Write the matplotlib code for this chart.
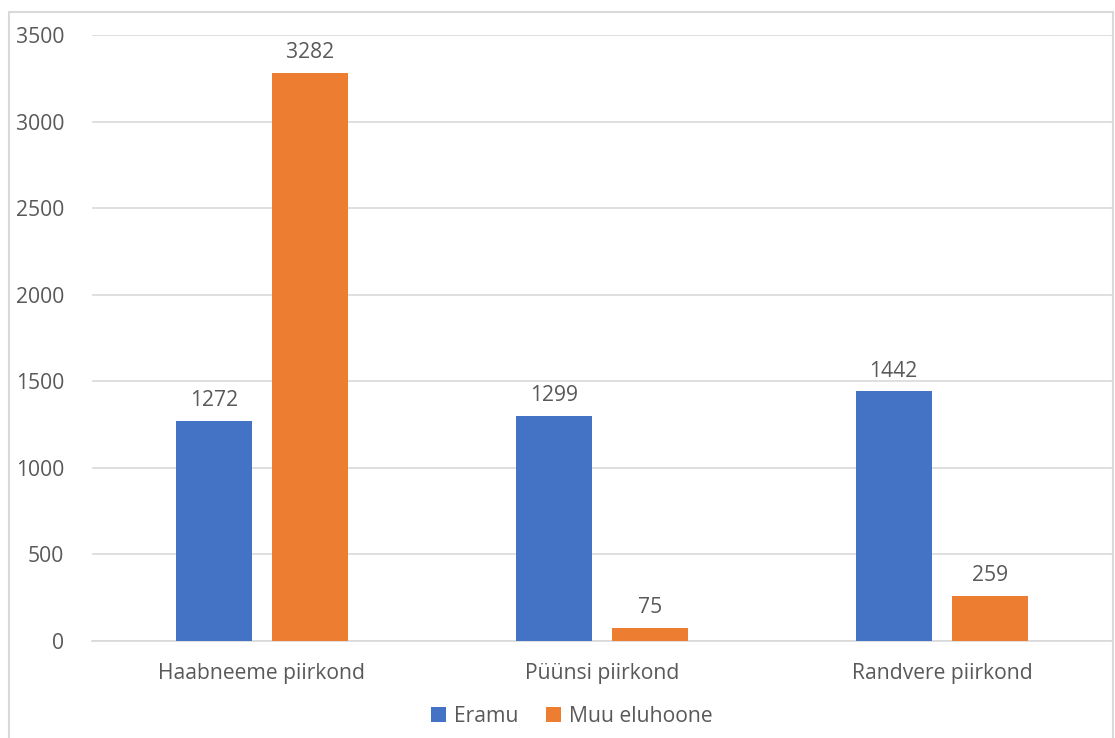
import matplotlib
matplotlib.use("Agg")
import matplotlib.pyplot as plt
from matplotlib.patches import Rectangle
import numpy as np

categories = ["Haabneeme piirkond", "Püünsi piirkond", "Randvere piirkond"]
series_names = ["Eramu", "Muu eluhoone"]
eramu = [1272, 1299, 1442]
muu_eluhoone = [3282, 75, 259]
y_ticks = [0, 500, 1000, 1500, 2000, 2500, 3000, 3500]

colors = ["#4472C4", "#ED7D31"]
text_color = "#595959"
plt.rcParams["font.family"] = ["Open Sans", "DejaVu Sans"]

W, H = 1115, 738
fig = plt.figure(figsize=(W / 100, H / 100), dpi=100)
ax = fig.add_axes([92 / W, 1 - 641 / H, (1112 - 92) / W, (641 - 35) / H])

x = np.arange(len(categories))
bar_w = 0.223
offset = 0.142
fs = 15.2

for vals, name, col, off in [(eramu, series_names[0], colors[0], -offset),
                              (muu_eluhoone, series_names[1], colors[1], offset)]:
    bars = ax.bar(x + off, vals, width=bar_w, color=col, label=name, zorder=3)
    for b, v in zip(bars, vals):
        ax.annotate(f"{v}", (b.get_x() + b.get_width() / 2, v),
                    xytext=(0, 7), textcoords="offset points",
                    ha="center", va="bottom", fontsize=fs, color=text_color)

ax.set_xlim(-0.5, len(categories) - 0.5)
ax.set_ylim(0, 3500)
ax.set_yticks(y_ticks)
ax.set_yticklabels([str(t) for t in y_ticks])
ax.set_xticks(x)
ax.set_xticklabels(categories)
ax.tick_params(axis="both", length=0, labelsize=fs, colors=text_color)
ax.tick_params(axis="y", pad=20)
ax.tick_params(axis="x", pad=16)
ax.grid(axis="y", color="#D9D9D9", linewidth=1.2, zorder=0)
for s in ["top", "right", "left"]:
    ax.spines[s].set_visible(False)
ax.spines["bottom"].set_color("#D9D9D9")
ax.spines["bottom"].set_linewidth(1.2)

leg = fig.legend(loc="center", bbox_to_anchor=(572 / W, 1 - 716 / H), ncol=2,
                 frameon=False, fontsize=fs, handlelength=0.7, handleheight=0.7,
                 handletextpad=0.4, columnspacing=1.3)
for t in leg.get_texts():
    t.set_color(text_color)

# outer chart frame
fig.patches.append(Rectangle((9 / W, -0.01), (1113 - 9) / W, 1 - 12 / H + 0.01,
                             transform=fig.transFigure, fill=False,
                             edgecolor="#D9D9D9", linewidth=1.5))

fig.savefig("out.png", dpi=100)
